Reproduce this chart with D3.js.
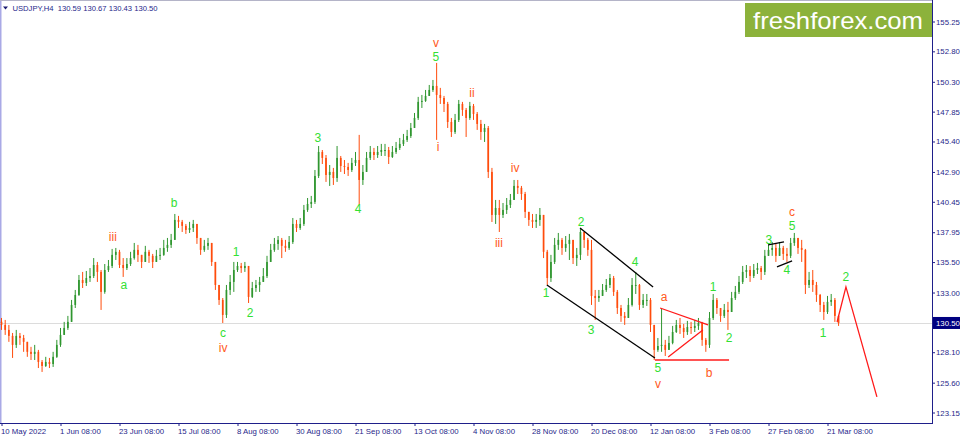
<!DOCTYPE html>
<html>
<head>
<meta charset="utf-8">
<script src="https://cdn.jsdelivr.net/npm/d3@7"></script>
<style>
  html, body { margin: 0; padding: 0; background: #fff; }
  svg { display: block; }
  text { font-family: "Liberation Sans", Arial, sans-serif; }
</style>
</head>
<body>
<svg id="chart" width="960" height="436"></svg>
<script>
const firstOpen = 130.60;
const closes = [
  130.34,129.93,129.44,128.70,129.44,129.27,128.95,128.13,127.96,128.13,
  127.30,126.97,127.30,127.13,127.72,128.70,129.52,130.09,130.59,131.98,
  132.80,134.03,133.78,134.19,134.35,135.26,134.69,133.05,134.85,135.18,
  136.09,136.34,135.26,135.01,135.34,135.83,136.50,136.09,135.51,136.34,
  136.01,135.51,136.01,136.09,136.66,136.91,137.32,138.96,138.80,138.47,
  138.14,138.30,138.63,137.48,136.50,136.83,137.07,135.51,133.62,132.39,
  131.16,133.21,133.87,134.85,135.18,135.01,135.18,132.64,133.37,133.62,
  133.87,134.35,135.51,136.50,136.99,137.32,136.83,136.66,137.15,138.63,
  138.30,138.63,139.78,140.27,140.44,142.57,144.54,144.05,142.65,142.90,
  142.40,144.05,143.39,143.31,143.06,143.64,143.88,142.24,142.90,144.05,
  144.54,144.29,144.54,144.70,144.70,144.13,144.54,144.87,145.20,145.53,
  145.85,146.51,147.33,148.65,148.73,149.14,149.63,149.96,149.22,148.97,
  148.48,147.00,146.18,147.17,148.48,147.99,147.33,148.32,147.66,146.84,
  146.18,146.51,142.90,139.37,139.94,139.37,139.78,140.19,140.60,141.75,
  141.59,141.09,139.62,138.96,138.80,138.96,139.37,136.34,134.19,135.51,
  136.91,137.32,136.66,136.99,137.32,135.83,136.09,137.97,137.32,136.50,
  132.72,132.55,132.72,133.21,133.62,134.19,133.05,131.73,131.08,130.91,
  131.98,133.62,133.62,131.98,132.39,132.39,130.34,128.29,128.61,128.70,
  128.29,128.86,129.76,130.34,130.09,129.76,130.17,130.09,130.26,130.50,
  129.11,128.70,130.91,132.39,131.73,131.08,131.57,131.40,132.55,133.05,
  133.87,134.69,134.85,134.36,134.85,135.01,134.69,136.01,136.50,136.66,
  136.01,136.66,136.17,136.01,137.07,137.48,136.66,136.50,133.62,134.03,
  133.62,132.80,131.98,131.40,132.23,132.39,131.08,130.50
];
const highs = [
  130.91,130.75,130.34,129.68,129.93,129.68,129.52,128.86,128.54,128.70,
  128.29,127.46,127.72,127.63,128.13,129.11,130.09,130.59,131.08,132.39,
  133.21,134.44,134.69,134.77,135.01,135.83,135.51,134.85,135.34,135.67,
  136.58,136.66,136.50,135.83,135.83,136.34,137.07,136.91,136.09,136.83,
  136.50,136.17,136.50,136.66,137.32,137.48,137.81,139.45,139.29,138.96,
  138.63,138.80,138.96,138.55,137.48,137.32,137.48,137.07,135.51,133.62,
  132.55,133.62,134.44,135.51,135.51,135.43,135.51,135.18,133.87,134.03,
  134.28,135.01,136.01,136.99,137.48,137.64,137.48,137.32,137.64,139.12,
  138.96,139.12,140.19,140.76,140.93,143.06,145.03,144.70,144.29,143.47,
  143.23,145.03,144.21,143.88,143.64,144.05,144.54,145.94,143.47,144.54,
  145.03,144.87,145.03,145.20,145.20,144.95,145.03,145.36,145.69,146.02,
  146.35,146.92,147.74,149.06,149.22,149.63,150.04,150.45,151.85,149.80,
  149.14,148.65,147.33,147.66,148.81,148.65,148.15,148.65,148.48,147.82,
  147.17,146.84,146.67,143.23,140.60,140.60,140.35,140.76,141.09,142.24,
  142.24,141.75,141.26,139.62,139.45,139.45,139.94,139.37,136.50,136.09,
  137.48,137.89,137.48,137.64,137.81,137.32,136.66,138.30,137.97,137.48,
  137.32,133.21,133.21,133.70,134.11,134.52,134.36,133.21,131.98,131.40,
  132.55,134.19,134.69,133.70,132.88,132.88,132.55,130.34,129.27,131.65,
  129.11,129.44,130.26,130.75,130.91,130.42,130.67,130.59,130.75,130.91,
  130.59,129.27,131.40,132.88,132.55,131.73,132.06,132.23,133.05,133.54,
  134.36,135.18,135.26,135.18,135.34,135.43,135.18,136.50,136.91,137.15,
  137.01,137.15,136.83,136.66,137.48,137.89,137.32,137.32,136.58,134.69,
  134.85,133.87,132.88,132.23,132.72,132.88,132.55,131.16
];
const lows = [
  129.93,129.52,128.95,127.63,128.45,128.70,128.13,127.72,127.46,127.46,
  126.80,126.48,126.89,126.80,126.89,127.63,128.54,129.52,129.93,130.59,
  131.73,132.72,133.37,133.54,133.87,134.19,133.87,131.57,132.90,134.69,
  135.01,135.67,135.01,134.28,134.85,135.18,135.70,135.51,135.01,135.51,
  135.43,135.01,135.51,135.67,136.01,136.34,136.66,137.32,138.30,137.97,
  137.81,137.89,137.97,136.99,136.09,136.34,136.50,135.18,133.21,131.98,
  130.50,130.91,132.80,133.05,134.69,134.61,134.69,132.14,132.55,133.05,
  133.05,133.87,134.19,135.51,136.34,136.50,135.83,136.34,136.50,136.99,
  137.97,138.14,138.47,139.62,139.94,140.27,142.40,143.55,142.08,141.75,
  141.83,142.08,142.90,142.73,142.57,142.90,143.39,140.19,141.83,142.90,
  143.88,143.88,144.05,144.21,144.21,143.55,144.05,144.38,144.70,145.03,
  145.36,145.69,146.51,147.17,148.15,148.65,149.14,149.47,145.53,148.48,
  147.82,146.51,145.77,146.02,147.00,147.50,145.77,147.17,147.17,146.35,
  145.53,145.36,142.40,138.79,138.63,137.97,139.12,139.45,139.94,140.60,
  141.09,140.60,139.12,138.47,138.30,138.30,138.47,135.83,133.62,133.87,
  135.34,136.50,136.09,136.34,135.67,135.34,135.18,135.67,136.66,136.01,
  131.98,130.75,132.23,132.72,133.05,133.37,132.72,131.24,130.59,130.34,
  130.91,131.85,132.88,131.57,131.73,131.90,129.76,127.46,128.13,128.13,
  127.79,128.29,128.75,129.68,129.60,129.27,129.52,129.60,129.76,129.93,
  128.62,128.13,128.45,130.75,131.24,130.59,130.91,129.93,131.40,132.39,
  132.88,133.70,134.19,133.87,134.19,134.52,134.03,134.44,136.01,136.01,
  135.51,136.01,135.67,135.51,135.83,136.83,136.17,135.51,132.88,133.37,
  133.05,132.23,131.40,130.75,131.24,131.90,130.59,130.26
];

// axes
const dateTicks = [0, 16, 32, 48, 64, 80, 96, 112, 128, 144, 160, 176, 192, 208, 224];
const dateLabels = ['10 May 2022', '1 Jun 08:00', '23 Jun 08:00', '15 Jul 08:00', '8 Aug 08:00',
  '30 Aug 08:00', '21 Sep 08:00', '13 Oct 08:00', '4 Nov 08:00', '28 Nov 08:00',
  '20 Dec 08:00', '12 Jan 08:00', '3 Feb 08:00', '27 Feb 08:00', '21 Mar 08:00'];
const priceTicks = [155.25, 152.80, 150.30, 147.85, 145.40, 142.90, 140.45, 137.95,
  135.50, 133.00, 130.50, 128.10, 125.60, 123.15];
const lastPrice = 130.50;
const headerText = 'USDJPY,H4  130.59 130.67 130.43 130.50';
const logoText = 'freshforex.com';

// drawn objects, [day, price]
const blackLines = [
  [[147.9, 133.62], [177.2, 127.63]],
  [[156.9, 138.30], [176.7, 133.46]],
  [[207.9, 136.91], [212.2, 137.15]],
  [[210.3, 135.10], [214.4, 135.59]]
];
const redLines = [
  [[178.6, 131.73], [191.6, 130.34]],
  [[180.8, 127.71], [190.2, 129.93]],
  [[177.2, 127.46], [197.3, 127.46]]
];
const projection = [[226.6, 130.58], [229.0, 133.46], [237.4, 124.43]];

// wave labels: [day, price, text, degree] - 'g' small degree (green), 'r' larger degree (orange)
const waveLabels = [
  [30.2, 137.56, 'iii', 'r'], [33.2, 133.62, 'a', 'g'], [46.8, 140.35, 'b', 'g'],
  [63.6, 136.33, '1', 'g'], [60.1, 129.74, 'c', 'g'], [60.1, 128.45, 'iv', 'r'],
  [67.4, 131.32, '2', 'g'], [85.8, 145.69, '3', 'g'], [96.7, 139.86, '4', 'g'],
  [117.8, 153.55, 'v', 'r'], [117.8, 152.40, '5', 'g'], [118.4, 144.95, 'i', 'r'],
  [127.6, 149.38, 'ii', 'r'], [139.3, 143.23, 'iv', 'r'], [134.9, 137.07, 'iii', 'r'],
  [157.2, 138.79, '2', 'g'], [147.7, 132.96, '1', 'g'], [159.9, 129.93, '3', 'g'],
  [171.8, 135.51, '4', 'g'], [179.7, 132.64, 'a', 'r'], [178.0, 126.81, '5', 'g'],
  [178.0, 125.49, 'v', 'r'], [191.9, 126.40, 'b', 'r'], [193.0, 133.46, '1', 'g'],
  [197.3, 129.27, '2', 'g'], [214.4, 139.60, 'c', 'r'], [214.4, 138.45, '5', 'g'],
  [208.1, 137.32, '3', 'g'], [213.0, 134.85, '4', 'g'], [222.8, 129.68, '1', 'g'],
  [229.0, 134.28, '2', 'g']
];

const W = 960, H = 436;
const plotRight = 932, plotBottom = 423;
const axisColor = '#1f1f8a';
const upColor = '#2f962f', downColor = '#ff4c0c';
const labelColor = { g: '#33e033', r: '#ff5a22' };

const svg = d3.select('#chart');

const x = d3.scaleLinear().domain([0, 16]).range([1.5, 60.5]);
const y = d3.scaleLinear().domain([123.15, 155.25]).range([412.5, 21.5]);

svg.append('defs').append('clipPath').attr('id', 'plotClip')
  .append('rect').attr('x', 0).attr('y', 0).attr('width', plotRight).attr('height', plotBottom);

// frame
svg.append('line').attr('x1', 0.5).attr('x2', 0.5).attr('y1', 0).attr('y2', plotBottom)
  .attr('stroke', '#a9a9e6').attr('stroke-width', 2);
svg.append('line').attr('x1', 0).attr('x2', plotRight).attr('y1', 0.5).attr('y2', 0.5)
  .attr('stroke', '#b4b4c8');

const plot = svg.append('g').attr('clip-path', 'url(#plotClip)');

// current price line
plot.append('line')
  .attr('x1', 0).attr('x2', plotRight)
  .attr('y1', Math.round(y(lastPrice)) + 0.5).attr('y2', Math.round(y(lastPrice)) + 0.5)
  .attr('stroke', '#dcdcdc');

// candles
const candles = closes.map((c, i) => {
  const o = i === 0 ? firstOpen : closes[i - 1];
  return { i, o, c, h: Math.max(highs[i], o, c), l: Math.min(lows[i], o, c) };
});
const cg = plot.append('g');
const bodyW = 1.7;
cg.selectAll('line.wick').data(candles).enter().append('line')
  .attr('class', 'wick')
  .attr('x1', d => x(d.i)).attr('x2', d => x(d.i))
  .attr('y1', d => y(d.h)).attr('y2', d => y(d.l))
  .attr('stroke', d => d.c >= d.o ? upColor : downColor)
  .attr('stroke-width', 1);
cg.selectAll('rect.body').data(candles).enter().append('rect')
  .attr('class', 'body')
  .attr('x', d => x(d.i) - bodyW / 2)
  .attr('width', bodyW)
  .attr('y', d => y(Math.max(d.o, d.c)))
  .attr('height', d => Math.max(1, Math.abs(y(d.o) - y(d.c))))
  .attr('fill', d => d.c >= d.o ? upColor : downColor);

// trend lines
const line = d3.line().x(d => x(d[0])).y(d => y(d[1]));
plot.selectAll('path.black').data(blackLines).enter().append('path')
  .attr('d', line).attr('fill', 'none').attr('stroke', '#000').attr('stroke-width', 1.3);
plot.selectAll('path.red').data(redLines).enter().append('path')
  .attr('d', line).attr('fill', 'none').attr('stroke', '#ff1a1a').attr('stroke-width', 1.3);
plot.append('path').datum(projection)
  .attr('d', line).attr('fill', 'none').attr('stroke', '#ff1a1a').attr('stroke-width', 1.3);

// wave labels
plot.selectAll('text.wave').data(waveLabels).enter().append('text')
  .attr('class', 'wave')
  .attr('x', d => x(d[0])).attr('y', d => y(d[1]))
  .attr('dy', '0.36em')
  .attr('text-anchor', 'middle')
  .attr('font-size', 12)
  .attr('fill', d => labelColor[d[3]])
  .text(d => d[2]);

// logo
svg.append('rect').attr('x', 745).attr('y', 3).attr('width', 187).attr('height', 34).attr('fill', '#8cb23b');
svg.append('text').attr('x', 753).attr('y', 28.5)
  .attr('font-family', '"Open Sans", sans-serif').attr('font-size', 24)
  .attr('textLength', 170).attr('lengthAdjust', 'spacingAndGlyphs')
  .attr('fill', '#fff').text(logoText);

// header
svg.append('path').attr('d', 'M3,6.5 L8,6.5 L5.5,9.5 Z').attr('fill', '#1a1a70');
svg.append('text').attr('x', 12.5).attr('y', 11)
  .attr('font-size', 8).attr('fill', axisColor)
  .attr('textLength', 145).attr('lengthAdjust', 'spacingAndGlyphs')
  .style('white-space', 'pre').text(headerText);

// price axis
const yAxis = svg.append('g').attr('transform', `translate(${plotRight},0)`)
  .call(d3.axisRight(y).tickValues(priceTicks).tickFormat(d3.format('.2f')).tickSize(3).tickPadding(1));
yAxis.select('.domain').remove();
yAxis.selectAll('line').attr('stroke', axisColor);
yAxis.selectAll('text').attr('fill', axisColor).attr('font-size', 7.8)
  .attr('font-family', '"Liberation Sans", Arial, sans-serif');
svg.append('line').attr('x1', plotRight + 0.5).attr('x2', plotRight + 0.5).attr('y1', 0).attr('y2', plotBottom + 1)
  .attr('stroke', axisColor);

// current price marker
const ly = y(lastPrice);
svg.append('rect').attr('x', plotRight + 1).attr('y', ly - 6).attr('width', W - plotRight - 1).attr('height', 12)
  .attr('fill', '#000080');
svg.append('text').attr('x', plotRight + 4).attr('y', ly).attr('dy', '0.35em')
  .attr('font-size', 7.8).attr('fill', '#fff').text(d3.format('.2f')(lastPrice));

// time axis
const xAxis = svg.append('g').attr('transform', `translate(0,${plotBottom})`)
  .call(d3.axisBottom(x).tickValues(dateTicks).tickFormat((d, i) => dateLabels[i]).tickSize(3).tickPadding(2));
xAxis.select('.domain').remove();
xAxis.selectAll('line').attr('stroke', axisColor);
xAxis.selectAll('text').attr('fill', axisColor).attr('font-size', 7.8)
  .attr('font-family', '"Liberation Sans", Arial, sans-serif')
  .attr('text-anchor', 'start').attr('dx', '-1');
svg.append('line').attr('x1', 0).attr('x2', plotRight + 1).attr('y1', plotBottom + 0.5).attr('y2', plotBottom + 0.5)
  .attr('stroke', axisColor);
</script>
</body>
</html>
